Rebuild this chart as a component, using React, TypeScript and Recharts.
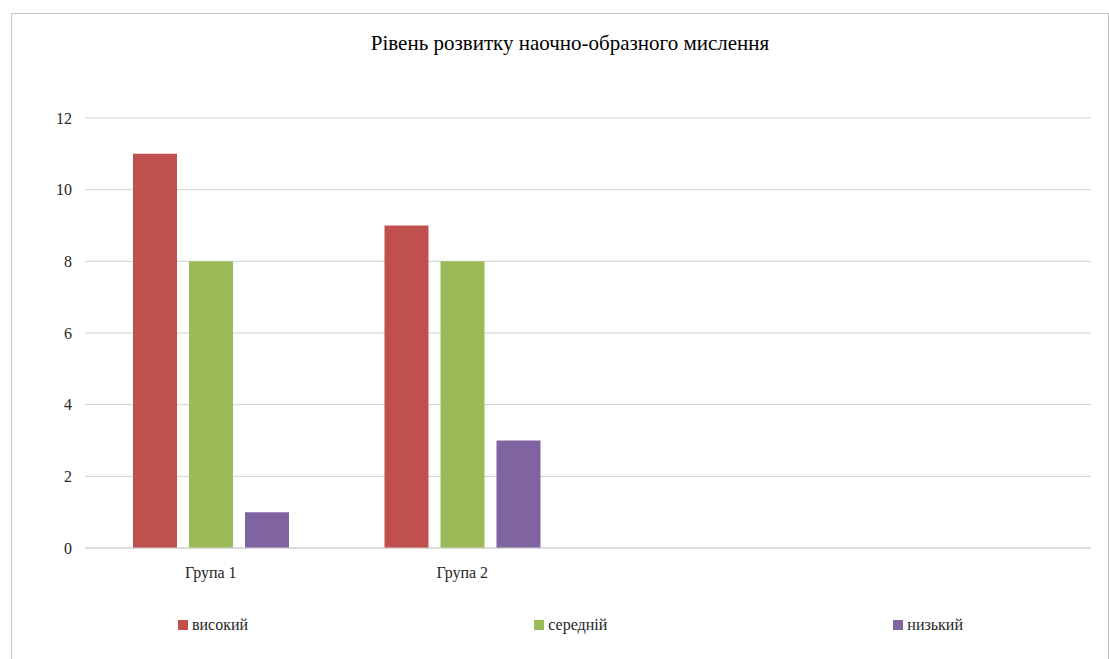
import { BarChart, Bar, XAxis, YAxis, CartesianGrid, Legend } from "recharts";

const categories = ["Група 1", "Група 2", "", " "];
const high = [11, 9, null, null];
const medium = [8, 8, null, null];
const low = [1, 3, null, null];
const yTicks = [0, 2, 4, 6, 8, 10, 12];

const seriesNames = ["високий", "середній", "низький"];
const seriesColors = ["#C0504D", "#9BBB59", "#8064A2"];

const data = categories.map((c, i) => ({ name: c, high: high[i], medium: medium[i], low: low[i] }));

const FONT = "'Liberation Serif', 'Times New Roman', serif";

function LegendRow() {
  return (
    <div style={{ display: "flex", justifyContent: "space-between", marginLeft: 178, marginRight: 146, fontFamily: FONT, fontSize: 16, color: "#262626" }}>
      {seriesNames.map((n, i) => (
        <div key={n} style={{ display: "flex", alignItems: "center", gap: 4 }}>
          <span style={{ width: 10, height: 10, background: seriesColors[i], display: "inline-block" }} />
          <span>{n}</span>
        </div>
      ))}
    </div>
  );
}

export default function App() {
  return (
    <div style={{ position: "absolute", left: 0, top: 0, width: 1109, height: 659, overflow: "hidden", background: "#fff" }}>
      {/* chart frame */}
      <div style={{ position: "absolute", left: 11, top: 13, width: 1096, height: 700, border: "1px solid #c4c4c4" }} />
      <div style={{ position: "absolute", left: 0, top: 31, width: 1140, textAlign: "center", fontFamily: FONT, fontSize: 21, color: "#000" }}>
        Рівень розвитку наочно-образного мислення
      </div>
      <div style={{ position: "absolute", left: 0, top: 0 }}>
        <BarChart width={1109} height={659} data={data} margin={{ top: 118, right: 18, left: 25, bottom: 81 }} barSize={44} barGap={12}>
          <CartesianGrid vertical={false} stroke="#d0d0d0" />
          <XAxis
            dataKey="name"
            axisLine={{ stroke: "#d0d0d0" }}
            tickLine={false}
            height={30}
            tickMargin={13}
            tick={{ fontFamily: FONT, fontSize: 16, fill: "#262626" }}
          />
          <YAxis
            width={60}
            domain={[0, 12]}
            ticks={yTicks}
            axisLine={false}
            tickLine={false}
            tickMargin={7}
            tick={{ fontFamily: FONT, fontSize: 16, fill: "#262626" }}
          />
          <Legend
            verticalAlign="bottom"
            content={() => <LegendRow />}
            wrapperStyle={{ position: "absolute", left: 0, top: 616, bottom: "auto", width: 1109, height: 0, overflow: "visible" }}
          />
          <Bar dataKey="high" name={seriesNames[0]} fill={seriesColors[0]} isAnimationActive={false} />
          <Bar dataKey="medium" name={seriesNames[1]} fill={seriesColors[1]} isAnimationActive={false} />
          <Bar dataKey="low" name={seriesNames[2]} fill={seriesColors[2]} isAnimationActive={false} />
        </BarChart>
      </div>
    </div>
  );
}
